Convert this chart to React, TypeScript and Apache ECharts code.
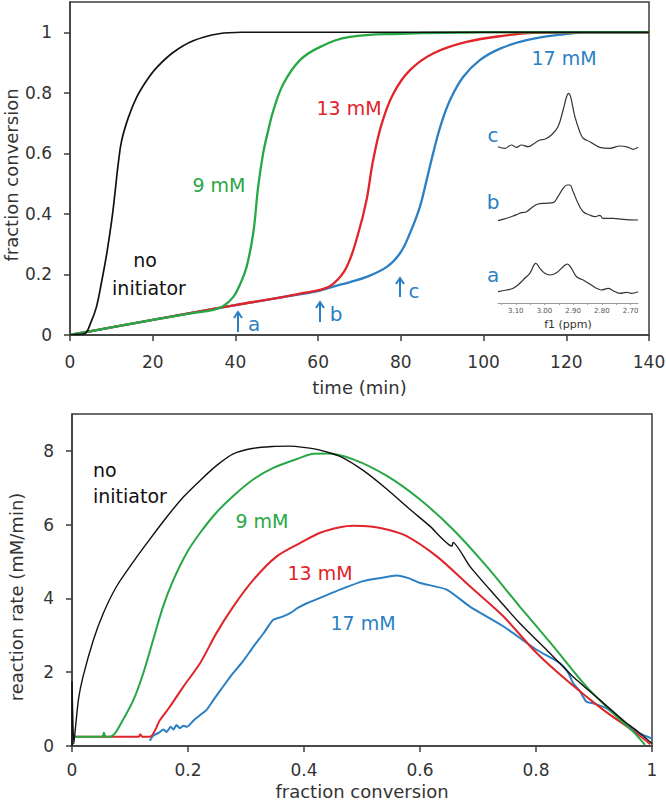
import React, { useEffect, useRef } from "react";
import * as echarts from "echarts";

// ---------- Top panel: fraction conversion vs time ----------
const timeBlack = [0, 2, 3.6, 5, 6.4, 7.7, 8.9, 10.1, 10.8, 11.7, 12.5, 14.1, 16.1, 18.5, 21, 25, 29.8, 36, 41.5, 140];
const convBlack = [0, 0.002, 0.005, 0.04, 0.093, 0.18, 0.27, 0.38, 0.46, 0.57, 0.643, 0.718, 0.785, 0.84, 0.884, 0.934, 0.972, 0.995, 1.0, 1.0];

const timeGreen = [0, 10, 20, 30, 34.7, 37, 39.5, 41.2, 42.7, 44.3, 45.5, 46.7, 48, 49.2, 51.6, 55.6, 60.4, 67.7, 79.8, 100, 140];
const convGreen = [0, 0.025, 0.05, 0.073, 0.083, 0.095, 0.126, 0.17, 0.225, 0.336, 0.49, 0.6, 0.68, 0.743, 0.83, 0.908, 0.951, 0.985, 0.995, 1.0, 1.0];

const timeRed = [0, 10, 20, 30, 40, 50, 55.6, 60.4, 63.7, 66.9, 69.7, 71.7, 73.3, 75.4, 78.2, 82.2, 87.8, 95.9, 105.6, 112, 125, 140];
const convRed = [0, 0.025, 0.05, 0.075, 0.099, 0.122, 0.137, 0.149, 0.17, 0.225, 0.336, 0.446, 0.578, 0.699, 0.798, 0.875, 0.93, 0.968, 0.99, 0.998, 1.0, 1.0];

const timeBlue = [0, 10, 20, 30, 40, 50, 60, 63.7, 67.7, 71.7, 76.6, 79.8, 82.2, 84.6, 86.2, 87.8, 89.5, 91.9, 95.1, 99.1, 104, 110.4, 118.5, 125, 140];
const convBlue = [0, 0.025, 0.05, 0.075, 0.099, 0.122, 0.145, 0.16, 0.175, 0.192, 0.225, 0.27, 0.336, 0.423, 0.51, 0.6, 0.687, 0.776, 0.853, 0.908, 0.946, 0.974, 0.992, 1.0, 1.0];

const timeTicks = [0, 20, 40, 60, 80, 100, 120, 140];
const convTicks = [0, 0.2, 0.4, 0.6, 0.8, 1];

// ---------- Inset: 1H NMR spectra (f1, ppm) ----------
const ppmA = [3.162, 3.132, 3.109, 3.086, 3.069, 3.051, 3.03, 3.016, 2.999, 2.981, 2.958, 2.935, 2.921, 2.906, 2.888, 2.865, 2.842, 2.819, 2.801, 2.778, 2.761, 2.737, 2.714, 2.697, 2.674];
const specA = [11.3, 13, 14.7, 19.7, 24.7, 29.7, 39.7, 34.7, 29.7, 28, 30.3, 36.3, 39, 34.7, 26.3, 23, 19, 14.7, 13, 14.7, 12.3, 9.7, 10.7, 9.7, 11.3];
const ppmB = [3.162, 3.132, 3.109, 3.092, 3.08, 3.063, 3.04, 3.022, 2.999, 2.97, 2.953, 2.935, 2.921, 2.912, 2.9, 2.883, 2.865, 2.842, 2.824, 2.807, 2.796, 2.761, 2.726, 2.674];
const specB = [10.3, 12.7, 15, 17, 18.3, 19.3, 24.3, 27, 27.7, 28.3, 34.3, 42.7, 46, 46, 39.3, 27.7, 19.3, 16, 14.3, 15.7, 12.7, 12.7, 11.7, 11];
const ppmC = [3.162, 3.138, 3.115, 3.098, 3.08, 3.057, 3.04, 3.016, 2.999, 2.976, 2.953, 2.935, 2.923, 2.916, 2.909, 2.894, 2.877, 2.865, 2.842, 2.807, 2.772, 2.737, 2.708, 2.691, 2.674];
const specC = [11.3, 9.7, 13, 10.7, 13, 11.3, 13.7, 18, 18.7, 23, 31.3, 48, 61.3, 64.7, 61.3, 41.3, 26.3, 19.7, 16.3, 10.7, 9.7, 12, 10.7, 8.7, 10.7];
const specOffsets = [0, 72, 145];
const ppmLabelTicks = [2.7, 2.8, 2.9, 3.0, 3.1];
const ppmMinorTicks = [2.7, 2.75, 2.8, 2.85, 2.9, 2.95, 3.0, 3.05, 3.1, 3.15];

// ---------- Bottom panel: reaction rate vs fraction conversion ----------
const fcBlack = [0, 0, 0.003, 0.005, 0.011, 0.019, 0.037, 0.054, 0.077, 0.106, 0.134, 0.163, 0.192, 0.221, 0.249, 0.278, 0.313, 0.345, 0.376, 0.422, 0.462, 0.502, 0.543, 0.583, 0.617, 0.655, 0.657, 0.686, 0.726, 0.772, 0.818, 0.864, 0.91, 0.956, 0.975, 1.0];
const rateBlack = [0, 1.75, 0.05, 0.34, 1.25, 1.88, 2.88, 3.6, 4.33, 5.0, 5.6, 6.2, 6.75, 7.2, 7.6, 7.92, 8.07, 8.12, 8.13, 8.04, 7.85, 7.47, 6.96, 6.41, 5.96, 5.42, 5.52, 4.87, 4.14, 3.33, 2.61, 1.88, 1.25, 0.62, 0.4, 0.07];

const fcGreen = [0, 0.052, 0.055, 0.058, 0.065, 0.074, 0.088, 0.106, 0.123, 0.14, 0.157, 0.175, 0.198, 0.221, 0.249, 0.278, 0.313, 0.347, 0.393, 0.416, 0.44, 0.485, 0.543, 0.6, 0.657, 0.715, 0.772, 0.83, 0.887, 0.945, 0.97, 0.988];
const rateGreen = [0.25, 0.25, 0.36, 0.25, 0.25, 0.34, 0.71, 1.25, 1.98, 2.88, 3.78, 4.51, 5.24, 5.78, 6.33, 6.78, 7.23, 7.54, 7.81, 7.92, 7.93, 7.77, 7.32, 6.68, 5.87, 4.87, 3.78, 2.7, 1.61, 0.71, 0.35, 0.03];

const fcRed = [0, 0.115, 0.118, 0.121, 0.134, 0.152, 0.169, 0.192, 0.221, 0.249, 0.278, 0.313, 0.353, 0.393, 0.428, 0.462, 0.485, 0.515, 0.543, 0.577, 0.629, 0.686, 0.744, 0.801, 0.859, 0.916, 0.974, 0.997];
const rateRed = [0.25, 0.25, 0.32, 0.25, 0.25, 0.71, 1.07, 1.61, 2.25, 3.06, 3.78, 4.51, 5.14, 5.5, 5.78, 5.93, 5.97, 5.95, 5.87, 5.69, 5.14, 4.33, 3.51, 2.52, 1.7, 0.98, 0.34, 0.05];

const fcBlue = [0.134, 0.14, 0.15, 0.158, 0.163, 0.17, 0.175, 0.18, 0.186, 0.192, 0.198, 0.21, 0.221, 0.232, 0.244, 0.26, 0.278, 0.295, 0.313, 0.33, 0.347, 0.362, 0.376, 0.39, 0.405, 0.433, 0.462, 0.502, 0.53, 0.56, 0.58, 0.6, 0.646, 0.686, 0.744, 0.801, 0.841, 0.855, 0.864, 0.875, 0.887, 0.9, 0.922, 0.94, 0.956, 0.979, 1.0];
const rateBlue = [0.14, 0.28, 0.36, 0.45, 0.38, 0.52, 0.45, 0.57, 0.48, 0.55, 0.52, 0.7, 0.84, 0.98, 1.25, 1.6, 1.98, 2.3, 2.7, 3.05, 3.42, 3.5, 3.6, 3.75, 3.87, 4.05, 4.24, 4.47, 4.55, 4.62, 4.55, 4.42, 4.24, 3.78, 3.24, 2.61, 2.25, 2.0, 1.7, 1.5, 1.2, 1.15, 1.02, 0.8, 0.57, 0.34, 0.2];

const fcTicks = [0, 0.2, 0.4, 0.6, 0.8, 1];
const rateTicks = [0, 2, 4, 6, 8];

const BLACK = "#111111";
const GREEN = "#28a745";
const RED = "#e0242a";
const BLUE = "#2b7fc3";
const AXIS = "#3c3c3c";
const FONT = "'DejaVu Sans', sans-serif";

const zip = (xs: number[], ys: number[], off = 0) => xs.map((x, i) => [x, ys[i] + off]);
const fmt = (v: number) => String(+(+v).toFixed(2));

function mainXAxis(gridIndex: number, min: number, max: number, ticks: number[], name: string, nameGap: number, margin: number) {
  return {
    type: "value", gridIndex, min, max,
    name, nameLocation: "middle", nameGap, nameMoveOverlap: false,
    nameTextStyle: { fontSize: 18, color: "#333", fontFamily: FONT },
    axisLine: { show: true, lineStyle: { color: AXIS, width: 1.5 } },
    axisTick: { show: true, length: 6, customValues: ticks, lineStyle: { color: AXIS, width: 1.5 } },
    axisLabel: { show: true, customValues: ticks, formatter: fmt, fontSize: 17, color: "#333", fontFamily: FONT, margin },
    splitLine: { show: false },
  };
}
function mainYAxis(gridIndex: number, min: number, max: number, ticks: number[]) {
  return {
    type: "value", gridIndex, min, max,
    axisLine: { show: true, lineStyle: { color: AXIS, width: 1.5 } },
    axisTick: { show: true, length: 6, customValues: ticks, lineStyle: { color: AXIS, width: 1.5 } },
    axisLabel: { show: true, customValues: ticks, formatter: fmt, fontSize: 17, color: "#333", fontFamily: FONT, margin: 18 },
    splitLine: { show: false },
  };
}
function line(xi: number, data: number[][], color: string, width: number, smooth: number | boolean) {
  return {
    type: "line", xAxisIndex: xi, yAxisIndex: xi, data, showSymbol: false, symbol: "none",
    smooth, lineStyle: { color, width }, silent: true,
  };
}
function txt(x: number, y: number, text: string, fill: string, size = 19, align = "center", rotation = 0) {
  return {
    type: "text", x, y, z: 50, rotation,
    style: { text, fill, fontSize: size, fontFamily: FONT, align, verticalAlign: "middle", textAlign: align, textVerticalAlign: "middle" },
  };
}
function arrow(x: number, yBottom: number, yTop: number) {
  return [
    { type: "line", z: 50, shape: { x1: x, y1: yBottom, x2: x, y2: yTop + 1 }, style: { stroke: BLUE, lineWidth: 2 } },
    { type: "polyline", z: 50, shape: { points: [[x - 4, yTop + 6], [x, yTop], [x + 4, yTop + 6]] }, style: { stroke: BLUE, lineWidth: 2, fill: null } },
  ];
}

export default function App() {
  const ref = useRef<HTMLDivElement>(null);
  useEffect(() => {
    if (!ref.current) return;
    const chart = echarts.init(ref.current, undefined, { renderer: "svg" });
    chart.setOption({
      animation: false,
      backgroundColor: "#ffffff",
      grid: [
        { left: 70, top: 2, width: 579, height: 333, show: true, borderColor: AXIS, borderWidth: 1.5, containLabel: false, outerBoundsMode: "none" },
        { left: 72, top: 414, width: 580, height: 332, show: true, borderColor: AXIS, borderWidth: 1.5, containLabel: false, outerBoundsMode: "none" },
        { left: 498, top: 80, width: 140, height: 223, show: false, containLabel: false, outerBoundsMode: "none" },
      ],
      xAxis: [
        mainXAxis(0, 0, 140, timeTicks, "time (min)", 43, 18),
        mainXAxis(1, 0, 1, fcTicks, "fraction conversion", 36, 15),
        {
          type: "value", gridIndex: 2, min: 2.674, max: 3.162, inverse: true,
          name: "f1 (ppm)", nameLocation: "middle", nameGap: 16,
          nameTextStyle: { fontSize: 11, color: "#333", fontFamily: FONT },
          axisLine: { show: true, lineStyle: { color: "#9a9a9a", width: 1 } },
          axisTick: { show: true, length: 2, customValues: ppmMinorTicks, lineStyle: { color: "#9a9a9a", width: 1 } },
          axisLabel: { show: true, customValues: ppmLabelTicks, formatter: (v: number) => (+v).toFixed(2), fontSize: 7, color: "#555", fontFamily: FONT, margin: 4 },
          splitLine: { show: false },
        },
      ],
      yAxis: [
        mainYAxis(0, 0, 1.1, convTicks),
        mainYAxis(1, 0, 9, rateTicks),
        { type: "value", gridIndex: 2, min: 0, max: 223, show: false },
      ],
      series: [
        line(0, zip(timeBlue, convBlue), BLUE, 2.3, 0.4),
        line(0, zip(timeRed, convRed), RED, 2.3, 0.4),
        line(0, zip(timeGreen, convGreen), GREEN, 2.3, 0.4),
        line(0, zip(timeBlack, convBlack), BLACK, 1.7, 0.4),
        line(1, zip(fcBlue, rateBlue), BLUE, 2, 0.2),
        line(1, zip(fcRed, rateRed), RED, 2, 0.3),
        line(1, zip(fcGreen, rateGreen), GREEN, 2, 0.3),
        line(1, zip(fcBlack, rateBlack), BLACK, 1.4, 0.2),
        line(2, zip(ppmA, specA, specOffsets[0]), "#333", 1.2, 0.4),
        line(2, zip(ppmB, specB, specOffsets[1]), "#333", 1.2, 0.4),
        line(2, zip(ppmC, specC, specOffsets[2]), "#333", 1.2, 0.4),
      ],
      graphic: [
        txt(11, 175, "fraction conversion", "#333", 18, "center", Math.PI / 2),
        txt(16, 597, "reaction rate (mM/min)", "#333", 18, "center", Math.PI / 2),
        txt(145, 260, "no", BLACK),
        txt(149, 288, "initiator", BLACK),
        txt(219, 185, "9 mM", GREEN),
        txt(349, 108, "13 mM", RED),
        txt(564, 58, "17 mM", BLUE),
        ...arrow(238, 332, 312),
        txt(254, 324, "a", BLUE, 20),
        ...arrow(320, 322, 302),
        txt(336, 314, "b", BLUE, 20),
        ...arrow(400, 297, 278),
        txt(414, 291, "c", BLUE, 20),
        txt(493, 135, "c", BLUE, 20),
        txt(493, 202, "b", BLUE, 20),
        txt(493, 275, "a", BLUE, 20),
        txt(93, 470, "no", BLACK, 19, "left"),
        txt(93, 496, "initiator", BLACK, 19, "left"),
        txt(262, 521, "9 mM", GREEN),
        txt(320, 573, "13 mM", RED),
        txt(363, 623, "17 mM", BLUE),
      ],
    });
    return () => chart.dispose();
  }, []);
  return <div ref={ref} style={{ position: "fixed", left: 0, top: 0, width: 666, height: 804, background: "#fff" }} />;
}
